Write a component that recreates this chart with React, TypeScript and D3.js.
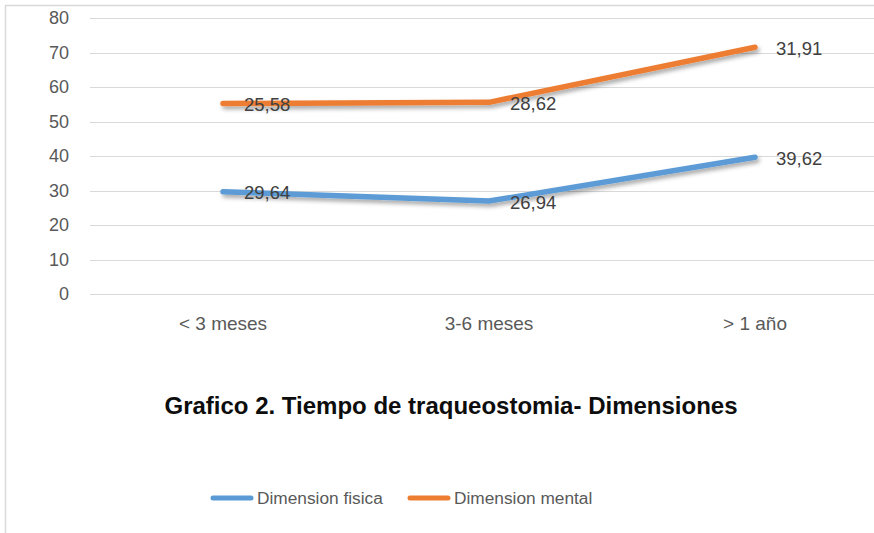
import React, { useEffect, useRef } from 'react';
import * as d3 from 'd3';

// tiempo de traqueostomia (categorías del eje X)
const categories = ['< 3 meses', '3-6 meses', '> 1 año'];
const seriesNames = ['Dimension fisica', 'Dimension mental'];
const fisica = [29.64, 26.94, 39.62];
const mental = [25.58, 28.62, 31.91];
const yTicks = [0, 10, 20, 30, 40, 50, 60, 70, 80];
const colors = ['#5B9BD5', '#ED7D31'];

const W = 874;
const H = 533;
const FONT = '"Liberation Sans", Arial, sans-serif';

const fmt = d3.formatLocale({ decimal: ',', thousands: '.', grouping: [3], currency: ['', ''] }).format('.2f');

export default function App() {
  const svgRef = useRef<SVGSVGElement>(null);

  useEffect(() => {
    if (!svgRef.current) return;
    const svg = d3.select(svgRef.current);
    svg.selectAll('*').remove();

    svg.append('rect').attr('width', W).attr('height', H).attr('fill', '#ffffff');

    // chart area border (only top and left visible in crop)
    svg.append('path')
      .attr('d', `M5.5,${H} L5.5,5.5 L${W},5.5`)
      .attr('fill', 'none').attr('stroke', '#d9d9d9').attr('stroke-width', 1.5);

    const defs = svg.append('defs');
    const f = defs.append('filter').attr('id', 'shadow')
      .attr('x', '-10%').attr('y', '-50%').attr('width', '120%').attr('height', '200%');
    f.append('feDropShadow').attr('dx', 2).attr('dy', 3).attr('stdDeviation', 2)
      .attr('flood-color', '#000').attr('flood-opacity', 0.35);

    const x = d3.scaleBand<string>().domain(categories).range([90, 888]);
    const y = d3.scaleLinear().domain([0, 80]).range([294, 18]);
    const cx = (c: string) => (x(c) as number) + x.bandwidth() / 2;

    // gridlines
    svg.append('g').selectAll('line').data(yTicks).join('line')
      .attr('x1', 90).attr('x2', W)
      .attr('y1', d => Math.round(y(d)) + 0.5).attr('y2', d => Math.round(y(d)) + 0.5)
      .attr('stroke', '#d9d9d9').attr('stroke-width', 1);

    // y tick labels
    svg.append('g').selectAll('text').data(yTicks).join('text')
      .attr('x', 69).attr('y', d => y(d))
      .attr('dy', '0.35em').attr('text-anchor', 'end')
      .attr('font-family', FONT).attr('font-size', 18).attr('fill', '#595959')
      .text(d => String(d));

    // x tick labels
    svg.append('g').selectAll('text').data(categories).join('text')
      .attr('x', d => cx(d)).attr('y', 330)
      .attr('text-anchor', 'middle')
      .attr('font-family', FONT).attr('font-size', 19).attr('fill', '#595959')
      .text(d => d);

    // stacked line
    const rows = categories.map((c, i) => ({ cat: c, fisica: fisica[i], mental: mental[i] }));
    const stacked = d3.stack<any>().keys(['fisica', 'mental'])(rows);
    const raw = [fisica, mental];

    const line = d3.line<any>()
      .x(d => cx(d.data.cat))
      .y(d => y(d[1]));

    stacked.forEach((s, si) => {
      svg.append('path').datum(s)
        .attr('d', line)
        .attr('fill', 'none').attr('stroke', colors[si]).attr('stroke-width', 5.5)
        .attr('stroke-linecap', 'round').attr('stroke-linejoin', 'round')
        .attr('filter', 'url(#shadow)');
    });

    stacked.forEach((s, si) => {
      svg.append('g').selectAll('text').data(s).join('text')
        .attr('x', d => cx(d.data.cat) + 21).attr('y', d => y(d[1]) + 1)
        .attr('dy', '0.35em')
        .attr('font-family', FONT).attr('font-size', 18.5).attr('fill', '#404040')
        .text((d, i) => fmt(raw[si][i]));
    });

    // title
    svg.append('text')
      .attr('x', 451).attr('y', 414).attr('text-anchor', 'middle')
      .attr('font-family', FONT).attr('font-size', 24).attr('font-weight', 'bold').attr('fill', '#0d0d0d')
      .text('Grafico 2. Tiempo de traqueostomia- Dimensiones');

    // legend
    const legendX = [213, 410];
    seriesNames.forEach((name, i) => {
      const g = svg.append('g').attr('transform', `translate(${legendX[i]},498)`);
      g.append('line').attr('x1', 0).attr('x2', 38).attr('y1', 0).attr('y2', 0)
        .attr('stroke', colors[i]).attr('stroke-width', 5).attr('stroke-linecap', 'round');
      g.append('text').attr('x', 44).attr('y', 0).attr('dy', '0.35em')
        .attr('font-family', FONT).attr('font-size', 17.3).attr('fill', '#595959')
        .text(name);
    });
  }, []);

  return (
    <svg ref={svgRef} width={W} height={H}
      style={{ position: 'absolute', left: 0, top: 0, display: 'block' }} />
  );
}
